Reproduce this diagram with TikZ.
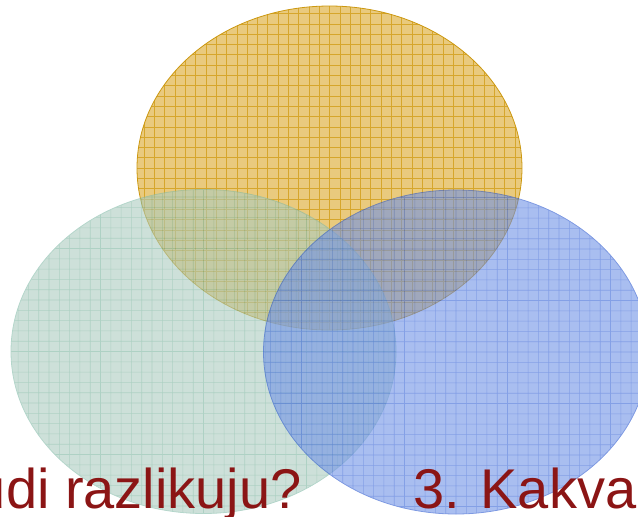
\documentclass[tikz,border=0pt]{standalone}
\usepackage{fontspec}
\setmainfont{Liberation Sans}
\usetikzlibrary{shapes.geometric}
\definecolor{goldfill}{RGB}{233,202,126}
\definecolor{goldgrid}{RGB}{214,166,44}
\definecolor{goldedge}{RGB}{204,152,16}
\definecolor{greenfill}{RGB}{172,204,191}
\definecolor{greengrid}{RGB}{120,178,156}
\definecolor{greenedge}{RGB}{130,186,168}
\definecolor{bluefill}{RGB}{112,146,230}
\definecolor{bluegrid}{RGB}{50,96,214}
\definecolor{blueedge}{RGB}{40,86,206}
\definecolor{titlered}{RGB}{139,21,21}
\tikzset{
  petal/.style={ellipse, minimum width=385pt, minimum height=324pt,
    inner sep=0pt, line width=0.8pt},
  gridfill/.style={path picture={
    \draw[#1, line width=0.6pt, step=10.3pt]
      (path picture bounding box.south west) grid (path picture bounding box.north east);}},
  goldpetal/.style={petal, draw=goldedge, fill=goldfill, gridfill=goldgrid},
  greenpetal/.style={petal, draw=greenedge, fill=greenfill, gridfill=greengrid},
  bluepetal/.style={petal, draw=blueedge, fill=bluefill, gridfill=bluegrid},
  caption/.style={font=\fontsize{56}{60}\selectfont, text=titlered, inner sep=0pt}
}
\begin{document}
\begin{tikzpicture}[x=1pt, y=-1pt]
  \useasboundingbox (0,0) rectangle (638,517);
  \clip (0,0) rectangle (638,517);
  % three overlapping sets
  \node[goldpetal] (upper) at (329.5,168) {};
  \begin{scope}[transparency group, opacity=0.6]
    \node[greenpetal] (lower left) at (203.5,351.5) {};
  \end{scope}
  \begin{scope}[transparency group, opacity=0.6]
    \node[bluepetal] (lower right) at (456,352) {};
  \end{scope}
  % cut-off headings
  \node[caption, anchor=base east] (askdiff) at (302,508) {udi razlikuju?};
  \node[caption, anchor=base west] (askkind) at (413,508) {3. Kakva};
\end{tikzpicture}
\end{document}
